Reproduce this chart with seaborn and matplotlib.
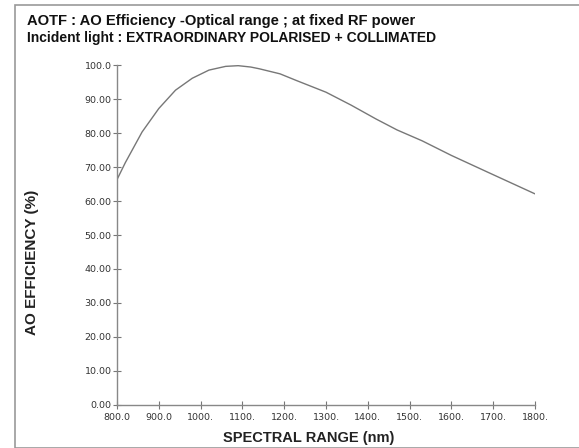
import matplotlib
matplotlib.use("Agg")
import matplotlib.pyplot as plt
import seaborn as sns
import pandas as pd
from matplotlib.patches import Rectangle

wavelength_nm = [800, 820, 860, 900, 940, 980, 1020, 1060, 1090, 1120, 1140, 1190,
                 1230, 1300, 1360, 1420, 1470, 1530, 1600, 1690, 1800]
efficiency_pct = [66.3, 71.3, 80.3, 87.2, 92.6, 96.1, 98.5, 99.6, 99.8, 99.4, 98.9, 97.4,
                  95.4, 92.0, 88.2, 84.1, 80.9, 77.7, 73.4, 68.3, 62.1]

x_ticks = [800, 900, 1000, 1100, 1200, 1300, 1400, 1500, 1600, 1700, 1800]
x_tick_labels = ["800.0", "900.0", "1000.", "1100.", "1200.", "1300.", "1400.",
                 "1500.", "1600.", "1700.", "1800."]
y_ticks = [0, 10, 20, 30, 40, 50, 60, 70, 80, 90, 100]
y_tick_labels = ["0.00", "10.00", "20.00", "30.00", "40.00", "50.00", "60.00",
                 "70.00", "80.00", "90.00", "100.0"]

title_lines = ["AOTF : AO Efficiency -Optical range ; at fixed RF power",
               "Incident light : EXTRAORDINARY POLARISED + COLLIMATED"]

sns.set_style("white")
plt.rcParams['font.family'] = ['Liberation Sans', 'DejaVu Sans']

df = pd.DataFrame({"wavelength": wavelength_nm, "efficiency": efficiency_pct})

fig = plt.figure(figsize=(5.79, 4.48), dpi=100)
ax = fig.add_axes([117/579, 1-405/448, 418/579, 340/448])

sns.lineplot(data=df, x="wavelength", y="efficiency", ax=ax, color="#777777",
             linewidth=1.0)

ax.set_xlim(800, 1800)
ax.set_ylim(0, 100)
ax.set_xticks(x_ticks)
ax.set_xticklabels(x_tick_labels)
ax.set_yticks(y_ticks)
ax.set_yticklabels(y_tick_labels)
ax.tick_params(axis='both', bottom=True, left=True, direction='inout', length=6,
               width=0.8, color="#777777", labelsize=6.8, labelcolor="#333333")
ax.tick_params(axis='x', pad=3)
ax.tick_params(axis='y', pad=1)
for lbl in ax.get_xticklabels() + ax.get_yticklabels():
    lbl.set_family(['DejaVu Sans'])
for s in ["top", "right"]:
    ax.spines[s].set_visible(False)
for s in ["left", "bottom"]:
    ax.spines[s].set_color("#888888")
    ax.spines[s].set_linewidth(1.0)
ax.patch.set_alpha(0)

ax.set_xlabel("SPECTRAL RANGE (nm)", fontsize=10.5, fontweight="bold",
              color="#222222")
ax.xaxis.set_label_coords((309 - 117) / 418, -(438 - 405) / 340)
ax.xaxis.label.set_va("center")
ax.set_ylabel("AO EFFICIENCY (%)", fontsize=11, fontweight="bold",
              color="#222222")
ax.yaxis.set_label_coords(-(117 - 32) / 418, (405 - 262) / 340)
ax.yaxis.label.set_va("center")

fig.text(27/579, 1-21/448, title_lines[0], fontsize=10.6, fontweight="bold",
         color="#111111", va="center", ha="left")
fig.text(27/579, 1-38/448, title_lines[1], fontsize=10, fontweight="bold",
         color="#111111", va="center", ha="left")

fig.patches.append(Rectangle((15/579, 0.0), 1.0, 1-5/448, transform=fig.transFigure,
                             fill=False, edgecolor="#999999", linewidth=1.2))

fig.savefig("out.png", dpi=100)
